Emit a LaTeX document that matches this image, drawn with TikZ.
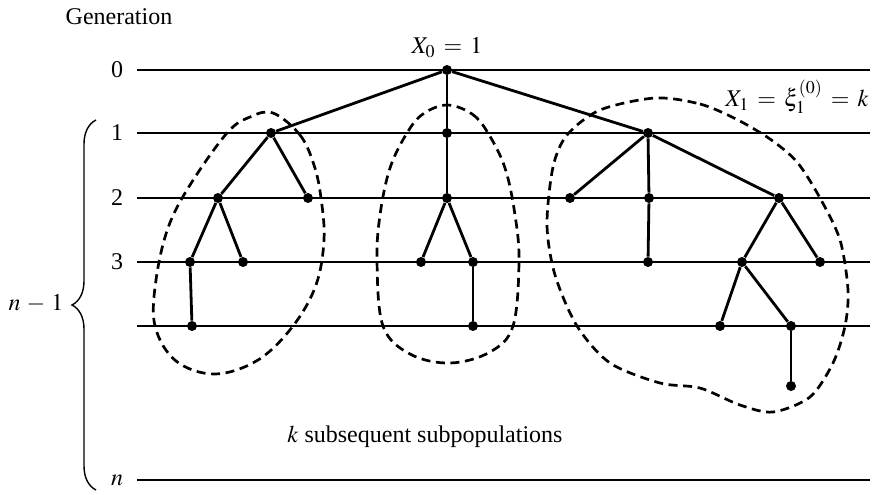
\documentclass[tikz,border=0pt]{standalone}
\usepackage{mathptmx}
\usepackage{fontspec}
\setmainfont{Liberation Serif}
\usepackage{tikz}
\usetikzlibrary{positioning,decorations.pathreplacing}

\begin{document}
\begin{tikzpicture}[
  x=0.5pt, y=-0.5pt,
  every node/.style={font=\fontsize{12}{14}\selectfont},
  level/.style={line width=0.75pt},
  edge/.style={line width=1.4pt},
  blob/.style={line width=1.35pt, dash pattern=on 4.5pt off 2.8pt},
  dot/.style={circle, fill=black, inner sep=0pt, minimum size=5pt},
  glabel/.style={anchor=center, inner sep=1pt}
]
  \useasboundingbox (0,0) rectangle (876,494);

  % generation axis
  \node (gen) at (119,17) {Generation};
  \foreach \i/\y in {0/70, 1/133, 2/198, 3/262} {
    \node[glabel] (g\i) at (117,\y) {\i};
    \coordinate (s\i) at (137,\y);
    \coordinate (e\i) at (870,\y);
    \draw[level] (s\i) -- (e\i);
  }
  \coordinate (s4) at (137,326);
  \coordinate (e4) at (870,326);
  \draw[level] (s4) -- (e4);
  \node[glabel] (gn) at (117,480) {$n$};
  \coordinate (sn) at (137,480);
  \coordinate (en) at (870,480);
  \draw[level] (sn) -- (en);

  % brace over generations 1..n
  \coordinate (btop) at (96,120);
  \coordinate (bbot) at (96,490);
  \draw[line width=0.7pt, decorate, decoration={brace, amplitude=12pt}] (bbot) -- (btop);
  \node (nm1) at (36,303) {$n\,-\,1$};

  % subpopulation outlines
  \draw[blob] plot[smooth cycle, tension=0.6] coordinates {
    (273,113) (300,135) (314,165) (321,198) (324,240) (316,285) (293,326)
    (258,360) (215,374) (176,361) (155,326) (156,280) (168,228) (190,185)
    (227,133) (250,117)};
  \draw[blob] plot[smooth cycle, tension=0.6] coordinates {
    (447,105) (472,114) (488,133) (505,168) (515,215) (519,262) (513,326)
    (490,352) (450,363) (410,354) (383,326) (377,262) (380,215) (390,168)
    (407,133) (423,114)};
  \draw[blob] plot[smooth cycle, tension=0.5] coordinates {
    (655,98) (700,104) (736,119) (770,139) (797,162) (820,198) (840,240)
    (848,290) (845,326) (833,363) (810,397) (773,412) (740,405) (700,388)
    (660,383) (610,363) (577,326) (555,275) (547,225) (553,167) (567,135)
    (600,110)};

  % tree vertices
  \node[dot] (r) at (447,70) {};
  \node[dot] (a1) at (271,133) {};
  \node[dot] (a2) at (218,198) {};
  \node[dot] (a2r) at (308,198) {};
  \node[dot] (a3) at (190,262) {};
  \node[dot] (a3r) at (243,262) {};
  \node[dot] (a4) at (192,326) {};
  \node[dot] (b1) at (447,133) {};
  \node[dot] (b2) at (447,198) {};
  \node[dot] (b3l) at (421,262) {};
  \node[dot] (b3r) at (473,262) {};
  \node[dot] (b4) at (473,326) {};
  \node[dot] (c1) at (648,133) {};
  \node[dot] (c2l) at (570,198) {};
  \node[dot] (c2m) at (649,198) {};
  \node[dot] (c2r) at (779,198) {};
  \node[dot] (c3m) at (648,262) {};
  \node[dot] (c3) at (742,262) {};
  \node[dot] (c3r) at (820,262) {};
  \node[dot] (c4l) at (720,326) {};
  \node[dot] (c4r) at (791,326) {};
  \node[dot] (c5) at (791,386) {};

  % tree edges
  \draw[edge] (r) -- (a1);
  \draw[edge] (r) -- (b1);
  \draw[edge] (r) -- (c1);
  \draw[edge] (a1) -- (a2);
  \draw[edge] (a1) -- (a2r);
  \draw[edge] (a2) -- (a3);
  \draw[edge] (a2) -- (a3r);
  \draw[edge] (a3) -- (a4);
  \draw[edge] (b1) -- (b2);
  \draw[edge] (b2) -- (b3l);
  \draw[edge] (b2) -- (b3r);
  \draw[edge] (b3r) -- (b4);
  \draw[edge] (c1) -- (c2l);
  \draw[edge] (c1) -- (c2m);
  \draw[edge] (c1) -- (c2r);
  \draw[edge] (c2m) -- (c3m);
  \draw[edge] (c2r) -- (c3);
  \draw[edge] (c2r) -- (c3r);
  \draw[edge] (c3) -- (c4l);
  \draw[edge] (c3) -- (c4r);
  \draw[edge] (c4r) -- (c5);

  % labels
  \node[above=0pt of r] (x0) {$X_0 \,=\, 1$};
  \node (x1) at (797,97) {$X_1 \,=\, \xi_1^{(0)} \,=\, k$};
  \node (sub) at (425,437) {$k$ subsequent subpopulations};
\end{tikzpicture}
\end{document}
